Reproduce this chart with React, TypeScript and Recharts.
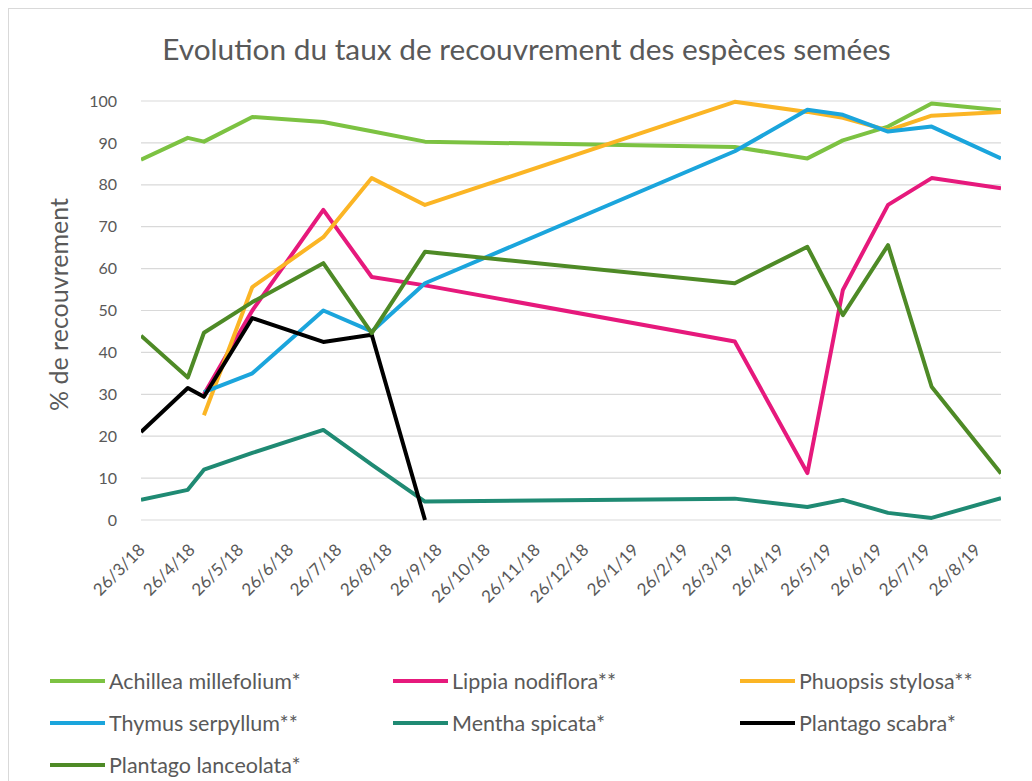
import React from 'react';
import { LineChart, Line, XAxis, YAxis, CartesianGrid, Legend } from 'recharts';

const DATES = ['2018-03-26', '2018-04-24', '2018-05-04', '2018-06-03', '2018-07-17', '2018-08-16', '2018-09-18', '2019-03-29', '2019-05-13', '2019-06-04', '2019-07-02', '2019-07-29', '2019-09-10'];
const TICK_DATES = ['2018-03-26', '2018-04-26', '2018-05-26', '2018-06-26', '2018-07-26', '2018-08-26', '2018-09-26', '2018-10-26', '2018-11-26', '2018-12-26', '2019-01-26', '2019-02-26', '2019-03-26', '2019-04-26', '2019-05-26', '2019-06-26', '2019-07-26', '2019-08-26'];
const Y_TICKS = [0, 10, 20, 30, 40, 50, 60, 70, 80, 90, 100];

const ACHILLEA = [86, 91.2, 90.3, 96.2, 95, 92.8, 90.3, 89, 86.3, 90.6, 93.9, 99.4, 97.8];
const LIPPIA = [null, null, 30, 50, 74, 58, 56, 42.6, 11.2, 54.9, 75.2, 81.6, 79.2];
const PHUOPSIS = [null, null, 25, 55.6, 67.5, 81.6, 75.2, 99.8, 97.4, 96, 93, 96.5, 97.4];
const THYMUS = [null, null, 30.5, 35, 50, 45, 56.5, 88, 97.9, 96.7, 92.7, 93.9, 86.3];
const MENTHA = [4.8, 7.2, 12, 16, 21.5, 13.2, 4.4, 5.1, 3.1, 4.8, 1.7, 0.5, 5.2];
const SCABRA = [21, 31.5, 29.4, 48.2, 42.5, 44.2, 0, null, null, null, null, null, null];
const LANCEOLATA = [44, 34, 44.7, 52, 61.3, 44.6, 64, 56.5, 65.2, 48.9, 65.6, 31.8, 11.1];

const SERIES = [
  { key: 'achillea', name: 'Achillea millefolium*', color: '#7cc242', values: ACHILLEA },
  { key: 'lippia', name: 'Lippia nodiflora**', color: '#e6197c', values: LIPPIA },
  { key: 'phuopsis', name: 'Phuopsis stylosa**', color: '#fbb525', values: PHUOPSIS },
  { key: 'thymus', name: 'Thymus serpyllum**', color: '#1ba5dc', values: THYMUS },
  { key: 'mentha', name: 'Mentha spicata*', color: '#1f8a73', values: MENTHA },
  { key: 'scabra', name: 'Plantago scabra*', color: '#000000', values: SCABRA },
  { key: 'lanceolata', name: 'Plantago lanceolata*', color: '#4e8a26', values: LANCEOLATA },
];

const ts = (s: string) => {
  const [y, m, d] = s.split('-').map(Number);
  return Date.UTC(y, m - 1, d);
};

const data = DATES.map((d, i) => {
  const row: Record<string, number | null> = { t: ts(d) };
  SERIES.forEach((s) => {
    row[s.key] = s.values[i];
  });
  return row;
});

const fmtDate = (v: number) => {
  const d = new Date(v);
  return `${d.getUTCDate()}/${d.getUTCMonth() + 1}/${String(d.getUTCFullYear()).slice(2)}`;
};

const FONT = 'Lato, "DejaVu Sans", sans-serif';
const TEXT = '#595959';

const XTick = (props: any) => {
  const { x, y, payload } = props;
  const ax = x + 5;
  const ay = y + 31;
  return (
    <text x={ax} y={ay} transform={`rotate(-45, ${ax}, ${ay})`} textAnchor="end" fill={TEXT} fontSize={17} fontFamily={FONT}>
      {fmtDate(payload.value)}
    </text>
  );
};

const YLabel = (props: any) => {
  const vb = props.viewBox || {};
  const cx = vb.x - 33;
  const cy = vb.y + vb.height / 2 - 6;
  return (
    <text x={cx} y={cy} transform={`rotate(-90, ${cx}, ${cy})`} textAnchor="middle" dominantBaseline="central" fill={TEXT} fontSize={25} fontFamily={FONT}>
      % de recouvrement
    </text>
  );
};

const COL_X = [41, 384, 731];
const ROW_Y = [22, 64, 106];

const LegendContent = () => (
  <div style={{ position: 'relative', width: 1023, height: 130, fontFamily: FONT }}>
    {SERIES.map((s, i) => {
      const col = i % 3;
      const row = Math.floor(i / 3);
      return (
        <div key={s.key} style={{ position: 'absolute', left: COL_X[col], top: ROW_Y[row] - 14, height: 28, display: 'flex', alignItems: 'center' }}>
          <div style={{ width: 55, height: 4, background: s.color, marginRight: 4 }} />
          <span style={{ fontSize: 21.5, color: TEXT, whiteSpace: 'nowrap' }}>{s.name}</span>
        </div>
      );
    })}
  </div>
);

export default function App() {
  return (
    <div style={{ position: 'absolute', left: 8, top: 8, width: 1024, height: 773, boxSizing: 'border-box', borderTop: '1px solid #d9d9d9', borderLeft: '1px solid #d9d9d9', background: '#fff', fontFamily: FONT }}>
      <div style={{ position: 'absolute', left: 6, top: 22, width: 1023, textAlign: 'center', fontSize: 29.8, color: TEXT, zIndex: 2 }}>
        Evolution du taux de recouvrement des espèces semées
      </div>
      <LineChart width={1023} height={772} data={data} margin={{ top: 92, right: 31, bottom: 171, left: 82 }}>
        <CartesianGrid horizontal={true} vertical={false} stroke="#d9d9d9" strokeWidth={1.2} />
        <XAxis
          dataKey="t"
          type="number"
          scale="linear"
          domain={[ts(DATES[0]), ts(DATES[DATES.length - 1])]}
          ticks={TICK_DATES.map(ts)}
          interval={0}
          tick={<XTick />}
          tickLine={false}
          axisLine={false}
          tickSize={0}
          tickMargin={0}
          height={90}
          allowDataOverflow
        />
        <YAxis
          type="number"
          domain={[0, 100]}
          ticks={Y_TICKS}
          interval={0}
          width={50}
          tickLine={false}
          axisLine={false}
          tickMargin={18}
          tick={{ fill: TEXT, fontSize: 16, fontFamily: FONT }}
          label={YLabel}
        />
        {SERIES.map((s) => (
          <Line
            key={s.key}
            type="linear"
            dataKey={s.key}
            name={s.name}
            stroke={s.color}
            strokeWidth={4}
            dot={false}
            activeDot={false}
            strokeLinejoin="round"
            isAnimationActive={false}
          />
        ))}
        <Legend layout="vertical" align="center" verticalAlign="middle" content={<LegendContent />} wrapperStyle={{ left: 0, top: 650, width: 1023, height: 130 }} />
      </LineChart>
    </div>
  );
}
